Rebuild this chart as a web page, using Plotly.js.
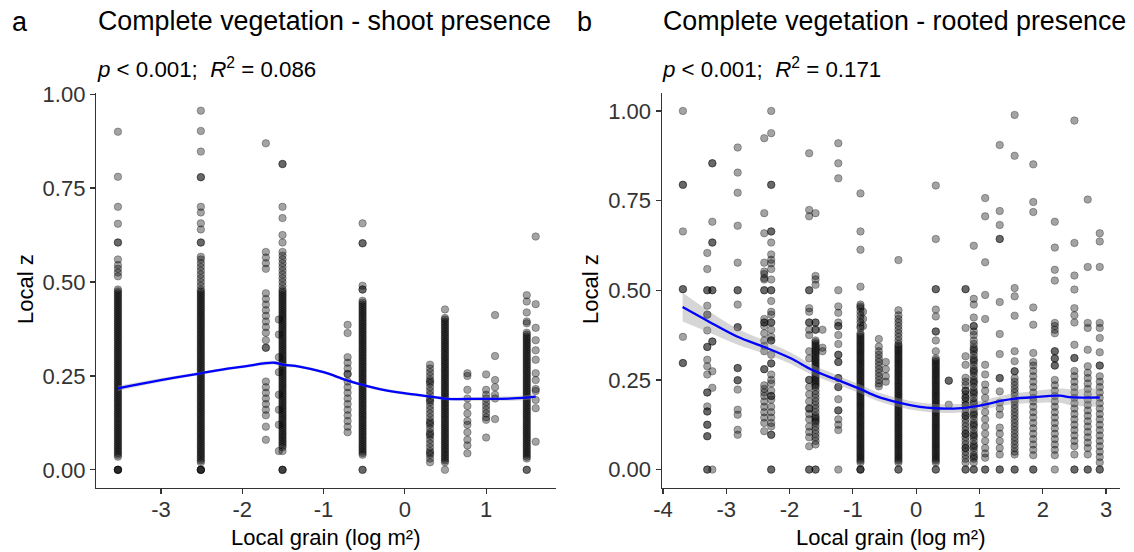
<!DOCTYPE html>
<html>
<head>
<meta charset="utf-8">
<script src="https://cdn.plot.ly/plotly-3.0.1.min.js"></script>
<style>html,body{margin:0;padding:0;background:#fff;}#chart{width:1134px;height:552px;}</style>
</head>
<body>
<div id="chart"></div>
<script>
// ---------- Panel a: shoot presence (x = local grain, log m2; values = local z) ----------
const aColX = [-3.53, -2.51, -1.71, -1.55, -1.505, -0.704, -0.52, 0.31, 0.494, 0.77, 1.0, 1.11, 1.5, 1.61];
const a1 = [0.90,0.78,0.70,0.655,0.605,0.605,0.56,0.545,0.535,0.525,0.515,0.48,0.475,0.47,0.465,0.46,0.455,0.45,0.445,0.44,0.435,0.43,0.425,0.42,0.415,0.41,0.405,0.40,0.395,0.39,0.385,0.38,0.375,0.37,0.365,0.36,0.355,0.35,0.345,0.34,0.335,0.33,0.325,0.32,0.315,0.31,0.305,0.30,0.295,0.29,0.285,0.28,0.275,0.27,0.265,0.26,0.255,0.25,0.245,0.24,0.235,0.23,0.225,0.22,0.215,0.21,0.205,0.20,0.195,0.19,0.185,0.18,0.175,0.17,0.165,0.16,0.155,0.15,0.145,0.14,0.135,0.13,0.125,0.12,0.115,0.11,0.105,0.10,0.095,0.09,0.085,0.08,0.075,0.07,0.065,0.06,0.055,0.05,0.045,0.04,0.035,0,0,0,0];
const a2 = [0.956,0.902,0.847,0.779,0.779,0.70,0.685,0.656,0.64,0.605,0.605,0.567,0.56,0.55,0.54,0.53,0.52,0.51,0.50,0.49,0.48,0.475,0.47,0.465,0.46,0.455,0.45,0.445,0.44,0.435,0.43,0.425,0.42,0.415,0.41,0.405,0.40,0.395,0.39,0.385,0.38,0.375,0.37,0.365,0.36,0.355,0.35,0.345,0.34,0.335,0.33,0.325,0.32,0.315,0.31,0.305,0.30,0.295,0.29,0.285,0.28,0.275,0.27,0.265,0.26,0.255,0.25,0.245,0.24,0.235,0.23,0.225,0.22,0.215,0.21,0.205,0.20,0.195,0.19,0.185,0.18,0.175,0.17,0.165,0.16,0.155,0.15,0.145,0.14,0.135,0.13,0.125,0.12,0.115,0.11,0.105,0.10,0.095,0.09,0.085,0.08,0.075,0.07,0.065,0.06,0.055,0.05,0.045,0.04,0.035,0.03,0.025,0.02,0,0,0,0];
const a3 = [0.869,0.58,0.565,0.55,0.535,0.47,0.455,0.44,0.425,0.41,0.395,0.38,0.365,0.345,0.325,0.325,0.235,0.22,0.205,0.19,0.175,0.16,0.145,0.115,0.08];
const a3b = [0.40,0.36,0.30,0.26,0.20,0.16,0.12,0.05];
const a4 = [0.814,0.814,0.70,0.67,0.625,0.605,0.58,0.57,0.56,0.55,0.54,0.53,0.52,0.51,0.50,0.49,0.48,0.475,0.47,0.465,0.46,0.455,0.45,0.445,0.44,0.435,0.43,0.425,0.42,0.415,0.41,0.405,0.40,0.395,0.39,0.385,0.38,0.375,0.37,0.365,0.36,0.355,0.35,0.345,0.34,0.335,0.33,0.325,0.32,0.315,0.31,0.305,0.30,0.295,0.29,0.285,0.28,0.275,0.27,0.265,0.26,0.255,0.25,0.245,0.24,0.235,0.23,0.225,0.22,0.215,0.21,0.205,0.20,0.195,0.19,0.185,0.18,0.175,0.17,0.165,0.16,0.155,0.15,0.145,0.14,0.135,0.13,0.125,0.12,0.115,0.11,0.105,0.10,0.095,0.09,0.085,0.08,0.075,0.07,0.065,0.06,0.05,0,0,0];
const a5 = [0.386,0.364,0.30,0.285,0.27,0.255,0.255,0.235,0.22,0.205,0.19,0.175,0.16,0.145,0.13,0.115,0.10];
const a6 = [0.656,0.603,0.603,0.49,0.48,0.48,0.45,0.445,0.44,0.435,0.43,0.425,0.42,0.415,0.41,0.405,0.40,0.395,0.39,0.385,0.38,0.375,0.37,0.365,0.36,0.355,0.35,0.345,0.34,0.335,0.33,0.325,0.32,0.315,0.31,0.305,0.30,0.295,0.29,0.285,0.28,0.275,0.27,0.265,0.26,0.255,0.25,0.245,0.24,0.235,0.23,0.225,0.22,0.215,0.21,0.205,0.20,0.195,0.19,0.185,0.18,0.175,0.17,0.165,0.16,0.155,0.15,0.145,0.14,0.135,0.13,0.125,0.12,0.115,0.11,0.105,0.10,0.095,0.09,0.085,0.08,0.075,0.07,0.065,0.06,0.055,0.05,0.045,0.04,0,0];
const a7 = [0.28,0.27,0.26,0.25,0.24,0.235,0.23,0.22,0.21,0.20,0.19,0.185,0.18,0.17,0.16,0.15,0.14,0.13,0.125,0.12,0.11,0.10,0.095,0.09,0.08,0.07,0.06,0.05,0.045,0.04,0.03,0.02];
const a8 = [0.427,0.404,0.40,0.395,0.39,0.385,0.38,0.375,0.37,0.365,0.36,0.355,0.35,0.345,0.34,0.335,0.33,0.325,0.32,0.315,0.31,0.305,0.30,0.295,0.29,0.285,0.28,0.275,0.27,0.265,0.26,0.255,0.25,0.245,0.24,0.235,0.23,0.225,0.22,0.215,0.21,0.205,0.20,0.195,0.19,0.185,0.18,0.175,0.17,0.165,0.16,0.155,0.15,0.145,0.14,0.135,0.13,0.125,0.12,0.115,0.11,0.105,0.10,0.095,0.09,0.085,0.08,0.075,0.07,0.065,0.06,0.055,0.05,0.045,0.04,0.035,0.03,0.025,0.02,0];
const a9 = [0.257,0.25,0.213,0.19,0.17,0.15,0.13,0.12,0.10,0.08,0.065,0.044];
const a10 = [0.254,0.213,0.20,0.19,0.18,0.17,0.16,0.15,0.14,0.133,0.086];
const a11 = [0.412,0.303,0.239,0.22,0.20,0.19,0.135];
const a12 = [0.465,0.448,0.419,0.395,0.39,0.365,0.36,0.355,0.35,0.345,0.34,0.335,0.33,0.325,0.32,0.315,0.31,0.305,0.30,0.295,0.29,0.285,0.28,0.275,0.27,0.265,0.26,0.255,0.25,0.245,0.24,0.235,0.23,0.225,0.22,0.215,0.21,0.205,0.20,0.195,0.19,0.185,0.18,0.175,0.17,0.165,0.16,0.155,0.15,0.145,0.14,0.135,0.13,0.125,0.12,0.115,0.11,0.105,0.10,0.095,0.09,0.085,0.08,0.075,0.07,0.065,0.06,0.055,0.05,0.045,0.04,0.035,0.03,0,0];
const a13 = [0.621,0.441,0.378,0.345,0.318,0.293,0.257,0.239,0.215,0.21,0.186,0.164,0.075];
const aCols = [a1, a2, a3, a3b, a4, a5, a6, a7, a8, a9, a10, a11, a12, a13];

const aLineX = [-3.53,-3.02,-2.51,-2.16,-1.95,-1.71,-1.6,-1.505,-1.3,-1.0,-0.72,-0.52,-0.31,-0.01,0.31,0.515,0.92,1.33,1.61];
const aLineY = [0.217,0.238,0.257,0.27,0.276,0.284,0.285,0.28,0.275,0.26,0.239,0.226,0.215,0.204,0.195,0.189,0.189,0.19,0.195];
const aHigh  = [0.224,0.243,0.261,0.274,0.28,0.289,0.29,0.285,0.279,0.264,0.243,0.23,0.219,0.208,0.199,0.193,0.194,0.196,0.202];
const aLow   = [0.21,0.233,0.253,0.266,0.272,0.279,0.28,0.275,0.271,0.256,0.235,0.222,0.211,0.2,0.191,0.185,0.184,0.184,0.188];

// ---------- Panel b: rooted presence ----------
const bColX = [-3.685,-3.30,-3.22,-2.82,-2.40,-2.29,-1.69,-1.59,-1.48,-1.23,-0.88,-0.84,-0.59,-0.48,-0.28,0.31,0.515,0.78,0.91,1.09,1.32,1.556,1.85,2.19,2.50,2.71,2.90];
const b1 = [1.0,0.794,0.794,0.664,0.503,0.503,0.37,0.297,0.297];
const b2 = [0.604,0.559,0.50,0.50,0.457,0.432,0.432,0.388,0.342,0.342,0.306,0.288,0.265,0.215,0.215,0.176,0.162,0.162,0.125,0.125,0.093,0.093,0,0];
const b3 = [0.854,0.854,0.691,0.633,0.633,0.50,0.50,0.357,0.357,0.274,0.228,0];
const b4 = [0.898,0.828,0.772,0.68,0.577,0.50,0.50,0.46,0.397,0.397,0.283,0.283,0.249,0.249,0.223,0.167,0.153,0.111,0.097];
const b5 = [0.924,0.715,0.659,0.577,0.552,0.545,0.534,0.53,0.50,0.50,0.42,0.41,0.41,0.40,0.38,0.36,0.345,0.33,0.28,0.28,0.235,0.225,0.215,0.205,0.19,0.175,0.16,0.145,0.13,0.107];
const b6 = [1.0,0.938,0.794,0.794,0.664,0.664,0.633,0.60,0.585,0.575,0.559,0.53,0.50,0.50,0.47,0.44,0.432,0.41,0.41,0.39,0.37,0.36,0.36,0.32,0.296,0.296,0.265,0.25,0.24,0.22,0.205,0.205,0.195,0.175,0.16,0.145,0.13,0.12,0.097,0.097,0,0];
const b7 = [0.882,0.724,0.706,0.50,0.50,0.45,0.44,0.41,0.41,0.39,0.375,0.33,0.31,0.25,0.25,0.23,0.21,0.19,0.17,0.17,0.155,0.14,0.12,0.105,0.09,0.065,0,0];
const b8 = [0.715,0.54,0.53,0.515,0.41,0.41,0.39,0.39,0.36,0.355,0.35,0.345,0.34,0.335,0.33,0.325,0.32,0.315,0.31,0.305,0.30,0.295,0.29,0.285,0.28,0.275,0.27,0.265,0.26,0.255,0.25,0.245,0.24,0.235,0.23,0.22,0.21,0.20,0.19,0.18,0.17,0.16,0.15,0.145,0.14,0.135,0.13,0.12,0.11,0.10,0.09,0.08,0.07,0,0];
const b9 = [0.39,0.34,0.33];
const b10 = [0.91,0.854,0.812,0.50,0.455,0.437,0.41,0.40,0.40,0.375,0.35,0.32,0.32,0.30,0.30,0.255,0.255,0.23,0.23,0.196,0.165,0.165,0.14,0.125,0.11,0];
const b11 = [0.77,0.664,0.613,0.51,0.46,0.455,0.45,0.44,0.43,0.42,0.41,0.40,0.395,0.38,0.375,0.37,0.365,0.36,0.355,0.35,0.345,0.34,0.335,0.33,0.325,0.32,0.315,0.31,0.305,0.30,0.295,0.29,0.285,0.28,0.275,0.27,0.265,0.26,0.255,0.25,0.245,0.24,0.235,0.23,0.225,0.22,0.215,0.21,0.205,0.20,0.195,0.19,0.185,0.18,0.175,0.17,0.165,0.16,0.155,0.15,0.145,0.14,0.135,0.13,0.125,0.12,0.115,0.11,0.105,0.10,0.095,0.09,0.085,0.08,0.075,0.07,0.065,0.06,0.055,0.05,0.045,0.04,0.035,0.03,0.025,0.02,0,0,0];
const b12 = [0.44,0.42,0.40];
const b13 = [0.364,0.343,0.33,0.32,0.31,0.30,0.29,0.28,0.27,0.26,0.25,0.24,0.232];
const b14 = [0.30,0.28,0.26,0.245];
const b15 = [0.584,0.444,0.43,0.42,0.41,0.40,0.39,0.38,0.37,0.36,0.35,0.345,0.34,0.335,0.33,0.325,0.32,0.315,0.31,0.305,0.30,0.295,0.29,0.285,0.28,0.275,0.27,0.265,0.26,0.255,0.25,0.245,0.24,0.235,0.23,0.225,0.22,0.215,0.21,0.205,0.20,0.195,0.19,0.185,0.18,0.175,0.17,0.165,0.16,0.155,0.15,0.145,0.14,0.135,0.13,0.125,0.12,0.115,0.11,0.105,0.10,0.095,0.09,0.085,0.08,0.075,0.07,0.065,0.06,0.055,0.05,0.045,0.04,0.035,0.03,0.025,0.02,0,0];
const b16 = [0.792,0.643,0.503,0.503,0.446,0.427,0.385,0.385,0.36,0.33,0.31,0.305,0.30,0.295,0.29,0.285,0.28,0.275,0.27,0.265,0.26,0.255,0.25,0.245,0.24,0.235,0.23,0.225,0.22,0.215,0.21,0.205,0.20,0.195,0.19,0.185,0.18,0.175,0.17,0.165,0.16,0.155,0.15,0.145,0.14,0.135,0.13,0.125,0.12,0.115,0.11,0.105,0.10,0.095,0.09,0.085,0.08,0.075,0.07,0.065,0.06,0.055,0.05,0.045,0.04,0.035,0.03,0.025,0.02,0,0];
const b17 = [0.248,0.248,0.181];
const b18 = [0.503,0.503,0.395,0.316,0.292,0.256,0.245,0.235,0.22,0.22,0.21,0.20,0.20,0.19,0.18,0.18,0.17,0.16,0.15,0.15,0.14,0.13,0.12,0.11,0.10,0.10,0.09,0.08,0.07,0.06,0.06,0.05,0.04,0.03,0.02,0,0];
const b19 = [0.624,0.476,0.46,0.424,0.40,0.40,0.385,0.375,0.36,0.35,0.34,0.335,0.33,0.32,0.31,0.305,0.30,0.29,0.28,0.275,0.27,0.26,0.25,0.245,0.24,0.23,0.22,0.215,0.21,0.20,0.19,0.185,0.18,0.17,0.16,0.155,0.15,0.14,0.13,0.125,0.12,0.11,0.10,0.095,0.09,0.08,0.07,0.065,0.06,0.05,0.04,0.035,0.03,0.02,0,0];
const b20 = [0.757,0.706,0.578,0.487,0.42,0.292,0.265,0.237,0.22,0.20,0.18,0.16,0.14,0.12,0.10,0.08,0.06,0.045,0.033,0,0];
const b21 = [0.905,0.721,0.682,0.643,0.643,0.467,0.378,0.322,0.255,0.255,0.218,0.187,0.17,0.153,0.117,0.10,0.08,0.06,0.042,0,0];
const b22 = [0.989,0.875,0.506,0.483,0.429,0.33,0.302,0.274,0.274,0.255,0.245,0.235,0.225,0.215,0.205,0.195,0.19,0.18,0.17,0.16,0.15,0.14,0.13,0.12,0.11,0.10,0.09,0.08,0.07,0.06,0.05,0.042,0,0];
const b23 = [0.851,0.746,0.718,0.452,0.404,0.325,0.30,0.29,0.275,0.26,0.245,0.23,0.215,0.20,0.19,0.175,0.16,0.145,0.13,0.115,0.10,0.085,0.07,0.055,0.04,0,0];
const b24 = [0.691,0.619,0.557,0.527,0.409,0.40,0.39,0.38,0.33,0.33,0.31,0.31,0.29,0.29,0.25,0.235,0.22,0.205,0.19,0.175,0.16,0.145,0.13,0.115,0.10,0.085,0.07,0.055,0.04,0];
const b25 = [0.973,0.632,0.541,0.502,0.45,0.43,0.41,0.348,0.311,0.311,0.275,0.26,0.245,0.23,0.215,0.20,0.185,0.17,0.155,0.14,0.125,0.11,0.095,0.08,0.065,0.042,0,0];
const b26 = [0.753,0.565,0.409,0.395,0.334,0.288,0.27,0.255,0.24,0.225,0.21,0.195,0.18,0.165,0.15,0.135,0.12,0.105,0.09,0.075,0.06,0.042,0,0];
const b27 = [0.659,0.636,0.565,0.409,0.395,0.367,0.327,0.29,0.29,0.26,0.245,0.23,0.215,0.20,0.185,0.17,0.155,0.14,0.125,0.11,0.095,0.08,0.065,0.05,0.035,0.02,0,0];
const bCols = [b1,b2,b3,b4,b5,b6,b7,b8,b9,b10,b11,b12,b13,b14,b15,b16,b17,b18,b19,b20,b21,b22,b23,b24,b25,b26,b27];

const bLineX = [-3.69,-3.28,-2.83,-2.39,-1.99,-1.62,-1.26,-0.89,-0.62,-0.31,0.06,0.3,0.505,0.77,1.08,1.35,1.56,1.79,2.27,2.42,2.9];
const bLineY = [0.453,0.413,0.371,0.341,0.311,0.276,0.251,0.225,0.204,0.188,0.175,0.171,0.17,0.172,0.181,0.192,0.198,0.201,0.206,0.202,0.201];
const bHigh  = [0.493,0.443,0.393,0.359,0.327,0.29,0.264,0.237,0.216,0.2,0.187,0.183,0.182,0.184,0.194,0.206,0.213,0.217,0.226,0.224,0.227];
const bLow   = [0.413,0.383,0.349,0.323,0.295,0.262,0.238,0.213,0.192,0.176,0.163,0.159,0.158,0.16,0.168,0.178,0.183,0.185,0.186,0.18,0.175];

const xTicksA = [-3,-2,-1,0,1];
const xTicksB = [-4,-3,-2,-1,0,1,2,3];
const yTicks = [0,0.25,0.5,0.75,1];
const yTickText = ['0.00','0.25','0.50','0.75','1.00'];

// ---------- build ----------
function flatten(xs, cols){
  const X=[], Y=[];
  cols.forEach((c,i)=>c.forEach(v=>{X.push(xs[i]); Y.push(v);}));
  return {X,Y};
}
const A = flatten(aColX, aCols);
const B = flatten(bColX, bCols);

const FONT = 'Liberation Sans, Arial, sans-serif';
const pointMarker = {size:7.5, color:'rgba(0,0,0,0.36)', line:{width:0.9, color:'rgba(0,0,0,0.32)'}};
const ribbon = 'rgba(153,153,153,0.4)';

const traces = [
  {type:'scatter', mode:'markers', x:A.X, y:A.Y, xaxis:'x', yaxis:'y', marker:pointMarker, hoverinfo:'skip'},
  {type:'scatter', mode:'lines', x:aLineX, y:aLow, xaxis:'x', yaxis:'y', line:{width:0, shape:'spline'}, hoverinfo:'skip'},
  {type:'scatter', mode:'lines', x:aLineX, y:aHigh, xaxis:'x', yaxis:'y', line:{width:0, shape:'spline'}, fill:'tonexty', fillcolor:ribbon, hoverinfo:'skip'},
  {type:'scatter', mode:'lines', x:aLineX, y:aLineY, xaxis:'x', yaxis:'y', line:{color:'#0000ff', width:2.3, shape:'spline'}},
  {type:'scatter', mode:'markers', x:B.X, y:B.Y, xaxis:'x2', yaxis:'y2', marker:pointMarker, hoverinfo:'skip'},
  {type:'scatter', mode:'lines', x:bLineX, y:bLow, xaxis:'x2', yaxis:'y2', line:{width:0, shape:'spline'}, hoverinfo:'skip'},
  {type:'scatter', mode:'lines', x:bLineX, y:bHigh, xaxis:'x2', yaxis:'y2', line:{width:0, shape:'spline'}, fill:'tonexty', fillcolor:ribbon, hoverinfo:'skip'},
  {type:'scatter', mode:'lines', x:bLineX, y:bLineY, xaxis:'x2', yaxis:'y2', line:{color:'#0000ff', width:2.3, shape:'spline'}}
];

const axisCommon = {showline:true, linecolor:'#333', linewidth:1.2, ticks:'outside', ticklen:5, tickwidth:1.2, tickcolor:'#333',
  showgrid:false, zeroline:false, tickfont:{family:FONT, size:22, color:'#333'}, fixedrange:true};
const yDom = [(552-487.5)/552, (552-93)/552];

const W=1134, H=552;
function px(x){return x/W;}
function py(y){return 1-y/H;}
const annotations = [
  {text:'a', x:px(10), y:py(22), xanchor:'left', yanchor:'middle', font:{size:27, color:'#000'}},
  {text:'Complete vegetation - shoot presence', x:px(96), y:py(21), xanchor:'left', yanchor:'middle', font:{size:26.8, color:'#000'}},
  {text:'<i>p</i> < 0.001;  <i>R</i><sup>2</sup> = 0.086', x:px(95), y:py(68), xanchor:'left', yanchor:'middle', font:{size:22.3, color:'#000'}},
  {text:'b', x:px(575), y:py(22), xanchor:'left', yanchor:'middle', font:{size:27, color:'#000'}},
  {text:'Complete vegetation - rooted presence', x:px(661), y:py(21), xanchor:'left', yanchor:'middle', font:{size:26.8, color:'#000'}},
  {text:'<i>p</i> < 0.001;  <i>R</i><sup>2</sup> = 0.171', x:px(660), y:py(68), xanchor:'left', yanchor:'middle', font:{size:22.3, color:'#000'}},
  {text:'Local z', x:px(25), y:py(289), xanchor:'center', yanchor:'middle', textangle:-90, font:{size:22, color:'#000'}},
  {text:'Local z', x:px(590), y:py(289), xanchor:'center', yanchor:'middle', textangle:-90, font:{size:22, color:'#000'}},
  {text:'Local grain (log m²)', x:px(326), y:py(537), xanchor:'center', yanchor:'middle', font:{size:22, color:'#000'}},
  {text:'Local grain (log m²)', x:px(891), y:py(537), xanchor:'center', yanchor:'middle', font:{size:22, color:'#000'}}
].map(a=>Object.assign({xref:'paper', yref:'paper', showarrow:false}, a));

const layout = {
  width:W, height:H, margin:{l:0,r:0,t:0,b:0}, paper_bgcolor:'#fff', plot_bgcolor:'#fff',
  showlegend:false, font:{family:FONT, color:'#000'},
  xaxis: Object.assign({}, axisCommon, {domain:[px(96), px(556)], range:[-3.80,1.86], tickvals:xTicksA, ticktext:xTicksA.map(String), anchor:'y', ticklabelstandoff:-3}),
  yaxis: Object.assign({}, axisCommon, {domain:yDom, range:[-0.047,1.003], tickvals:yTicks, ticktext:yTickText, anchor:'x'}),
  xaxis2: Object.assign({}, axisCommon, {domain:[px(661.7), px(1120)], range:[-4.02,3.22], tickvals:xTicksB, ticktext:xTicksB.map(String), anchor:'y2', ticklabelstandoff:-3}),
  yaxis2: Object.assign({}, axisCommon, {domain:yDom, range:[-0.05,1.05], tickvals:yTicks, ticktext:yTickText, anchor:'x2'}),
  annotations: annotations
};

Plotly.newPlot('chart', traces, layout, {staticPlot:true, displayModeBar:false});
</script>
</body>
</html>
